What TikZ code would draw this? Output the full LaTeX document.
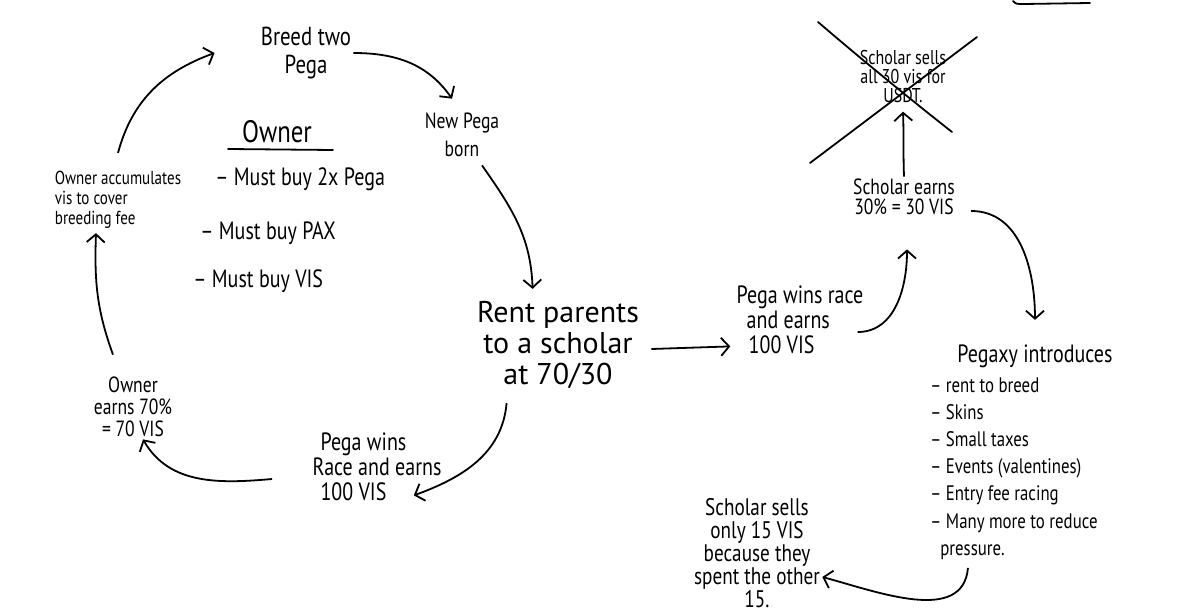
\documentclass[tikz,border=0pt]{standalone}
\usepackage{fontspec}
\setmainfont{PT Sans}[FakeStretch=0.8]
\newfontfamily\widehand{PT Sans}
\usetikzlibrary{arrows.meta}

\begin{document}
\begin{tikzpicture}[x=0.5pt, y=0.5pt,
        note/.style={align=center, inner sep=1pt},
        flow/.style={-{Straight Barb[length=4pt, width=9pt]}, line width=0.9pt},
        ink/.style={line width=0.9pt, line cap=round}]
        \useasboundingbox (0,0) rectangle (1200,-615);

        % Nodes
        \node (breed) [note, font=\fontsize{13}{14}\selectfont] at (306,-53) {Breed two\\Pega};
        \node (newpega) [note, font=\fontsize{11}{14}\selectfont] at (462,-135) {New Pega\\born};
        \node (rent) [note, font=\widehand\fontsize{15}{15.5}\selectfont] at (558,-345) {Rent parents\\to a scholar\\at 70/30};
        \node (pegawins) [note, align=left, font=\fontsize{12.5}{12.5}\selectfont] at (377,-467) {\hspace*{4pt}Pega wins\\Race and earns\\\hspace*{4pt}100 VIS};
        \node (ownerearns) [note, font=\fontsize{11}{11}\selectfont] at (133,-407) {Owner\\earns 70\%\\= 70 VIS};
        \node (accum) [note, align=left, font=\fontsize{9.4}{10}\selectfont] at (118,-200) {Owner accumulates\\vis to cover\\breeding fee};
        \node (ownerhead) [note, anchor=base, font=\fontsize{15.5}{16}\selectfont] at (277,-142) {Owner};
        \node (must1) [note, anchor=base west, font=\fontsize{12.5}{13}\selectfont] at (213,-185) {– Must buy 2x Pega};
        \node (must2) [note, anchor=base west, font=\fontsize{12.5}{13}\selectfont] at (198,-240) {– Must buy PAX};
        \node (must3) [note, anchor=base west, font=\fontsize{12.5}{13}\selectfont] at (191,-287) {– Must buy VIS};
        \node (pegarace) [note, align=left, font=\fontsize{12.5}{12.5}\selectfont] at (800,-320) {Pega wins race\\\hspace*{5pt}and earns\\\hspace*{6pt}100 VIS};
        \node (scholarearns) [note, font=\fontsize{11}{10}\selectfont] at (904,-197) {Scholar earns\\30\% = 30 VIS};
        \node (usdt) [note, font=\fontsize{10}{9.5}\selectfont] at (903,-77) {Scholar sells\\all 30 vis for\\USDT.};
        \node (pegaxyhead) [note, anchor=base west, font=\fontsize{12.5}{13}\selectfont] at (955,-362) {Pegaxy introduces};
        \node (pegaxylist) [note, align=left, anchor=north west, font=\fontsize{10.5}{13.6}\selectfont] at (928,-375)
                {– rent to breed\\– Skins\\– Small taxes\\– Events (valentines)\\– Entry fee racing\\– Many more to reduce\\\hspace*{5pt}pressure.};
        \node (sellsonly) [note, font=\fontsize{12}{11.5}\selectfont] at (757,-553) {Scholar sells\\only 15 VIS\\because they\\spent the other\\15.};

        % Underline and cross
        \draw[ink] ([shift={(-24.5pt,-3.5pt)}]ownerhead.base) -- ([shift={(28pt,-4pt)}]ownerhead.base);
        \draw[ink] (818,-22) .. controls (860,-58) and (905,-95) .. (952,-132);
        \draw[ink] (977,-37) -- (810,-163);
        \draw[ink] (1013,-1) .. controls (1016,-4) .. (1024,-4) -- (1090,-3);

        % Edges
        \draw[flow] (breed.east) to[out=0, in=125] ([shift={(-5pt,6pt)}]newpega.north);
        \draw[flow] ([shift={(10pt,-3pt)}]newpega.south) to[out=-55, in=92] ([shift={(29pt,5pt)}]rent.north west);
        \draw[flow] ([shift={(16pt,-6pt)}]rent.south west) to[out=-95, in=20] ([shift={(-15pt,4pt)}]pegawins.south east);
        \draw[flow] ([shift={(-19pt,-6pt)}]pegawins.west) to[out=185, in=-60] ([xshift=5pt]ownerearns.south);
        \draw[flow] ([shift={(-10pt,10pt)}]ownerearns.north) to[out=110, in=-92] ([shift={(-11pt,-1pt)}]accum.south);
        \draw[flow] ([yshift=8pt]accum.north) to[out=75, in=200] ([xshift=-22pt]breed.west);
        \draw[flow] ([shift={(5pt,-2pt)}]rent.east) -- ([shift={(-2pt,5pt)}]pegarace.south west);
        \draw[flow] ([shift={(-4pt,-6pt)}]pegarace.east) to[out=0, in=-90] ([shift={(1.5pt,-16pt)}]scholarearns.south);
        \draw[flow] (scholarearns.north) to[out=92, in=-88] ([yshift=-3pt]usdt.south);
        \draw[flow] ([shift={(7pt,-7pt)}]scholarearns.east) to[out=0, in=90] ([yshift=11pt]pegaxyhead.north);
        \draw[flow] ([shift={(-23pt,-3pt)}]pegaxylist.south) to[out=-95, in=-15] ([yshift=-12pt]sellsonly.east);

\end{tikzpicture}
\end{document}
